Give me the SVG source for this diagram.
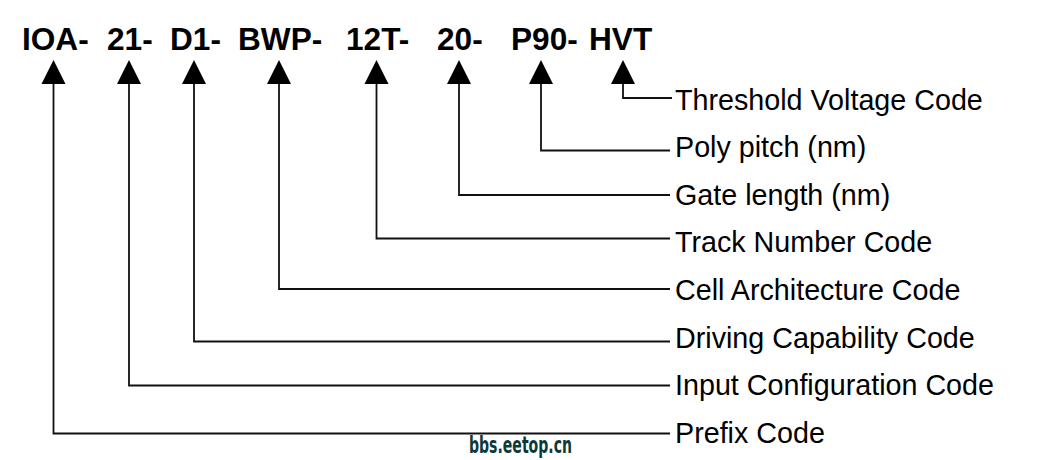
<svg xmlns="http://www.w3.org/2000/svg" width="1042" height="460" viewBox="0 0 1042 460">
<defs>
<style>
.t{font-family:"Liberation Sans",Arial,sans-serif;font-weight:bold;font-size:31.6px;fill:#000}
.l{font-family:"Liberation Sans",Arial,sans-serif;font-size:28.7px;fill:#000}
.c{fill:none;stroke:#111;stroke-width:1.8}
.a{fill:#000}
.w{font-family:"DejaVu Sans Condensed","DejaVu Sans",sans-serif;font-weight:bold;font-size:23px;fill:#0d3a39}
</style>
<polygon id="tri" points="0,0 12,24 -12,24"/>
</defs>
<rect width="1042" height="460" fill="#fff"/>
<g id="title">
<text class="t" x="22" y="50">IOA-</text>
<text class="t" x="107" y="50">21-</text>
<text class="t" x="170" y="50">D1-</text>
<text class="t" x="238" y="50">BWP-</text>
<text class="t" x="346" y="50">12T-</text>
<text class="t" x="437" y="50">20-</text>
<text class="t" x="511" y="50">P90-</text>
<text class="t" x="589" y="50">HVT</text>
</g>
<g id="arrowheads" class="a">
<use href="#tri" x="53.5" y="60"/>
<use href="#tri" x="129" y="60"/>
<use href="#tri" x="194" y="60"/>
<use href="#tri" x="279" y="60"/>
<use href="#tri" x="376.5" y="60"/>
<use href="#tri" x="459" y="60"/>
<use href="#tri" x="541" y="60"/>
<use href="#tri" x="623" y="60"/>
</g>
<g id="connectors" class="c">
<polyline points="623,84 623,98 672,98"/>
<polyline points="541,84 541,150.5 670,150.5"/>
<polyline points="459,84 459,195 670,195"/>
<polyline points="376.5,84 376.5,238.5 670,238.5"/>
<polyline points="279,84 279,289 670,289"/>
<polyline points="194,84 194,341.5 670,341.5"/>
<polyline points="129,84 129,385.5 670,385.5"/>
<polyline points="53.5,84 53.5,433.5 670,433.5"/>
</g>
<g id="n-threshold"><text class="l" x="675" y="109.5">Threshold Voltage Code</text></g>
<g id="n-poly"><text class="l" x="675" y="157.1">Poly pitch (nm)</text></g>
<g id="n-gate"><text class="l" x="675" y="204.7">Gate length (nm)</text></g>
<g id="n-track"><text class="l" x="675" y="252.3">Track Number Code</text></g>
<g id="n-cell"><text class="l" x="675" y="299.9">Cell Architecture Code</text></g>
<g id="n-driving"><text class="l" x="675" y="347.5">Driving Capability Code</text></g>
<g id="n-input"><text class="l" x="675" y="395.1">Input Configuration Code</text></g>
<g id="n-prefix"><text class="l" x="675" y="442.7">Prefix Code</text></g>
<text class="w" x="469" y="452.5" textLength="103" lengthAdjust="spacingAndGlyphs">bbs.eetop.cn</text>
</svg>
